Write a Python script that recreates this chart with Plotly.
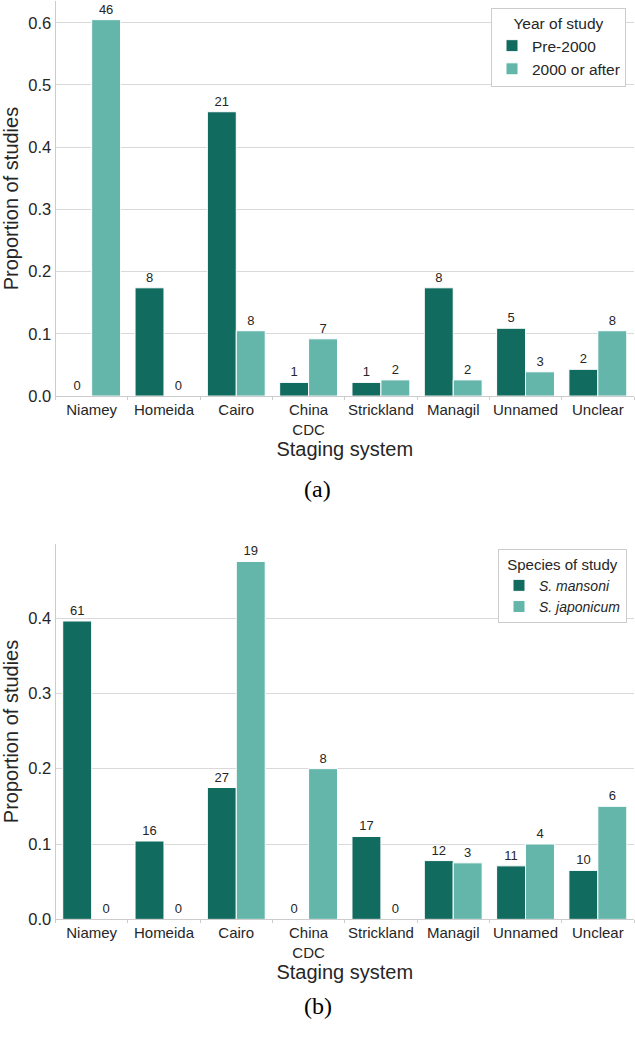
import plotly.graph_objects as go

categories = ["Niamey", "Homeida", "Cairo", "China<br>CDC", "Strickland", "Managil", "Unnamed", "Unclear"]

# Panel (a): year of study
pre2000_counts = [0, 8, 21, 1, 1, 8, 5, 2]
post2000_counts = [46, 0, 8, 7, 2, 2, 3, 8]
pre2000_prop = [0.0, 0.174, 0.457, 0.022, 0.022, 0.174, 0.109, 0.043]
post2000_prop = [0.605, 0.0, 0.105, 0.092, 0.026, 0.026, 0.039, 0.105]

# Panel (b): species of study
mansoni_counts = [61, 16, 27, 0, 17, 12, 11, 10]
japonicum_counts = [0, 0, 19, 8, 0, 3, 4, 6]
mansoni_prop = [0.396, 0.104, 0.175, 0.0, 0.110, 0.078, 0.071, 0.065]
japonicum_prop = [0.0, 0.0, 0.475, 0.200, 0.0, 0.075, 0.100, 0.150]

DARK = "#126b5f"
LIGHT = "#64b5aa"
TXT = "#262626"
GRID = "#d9d9d9"
FONT = "Liberation Sans, Arial, sans-serif"

fig = go.Figure()

def add_bar(x, y, counts, name, color, xa, ya, legend):
    fig.add_trace(go.Bar(
        x=x, y=y, name=name, marker=dict(color=color, line=dict(color="white", width=1)),
        text=[str(c) for c in counts], textposition="outside", cliponaxis=False,
        textfont=dict(size=13, color=TXT, family=FONT), xaxis=xa, yaxis=ya,
        legend=legend, offsetgroup=name,
    ))

add_bar(categories, pre2000_prop, pre2000_counts, "Pre-2000", DARK, "x", "y", "legend")
add_bar(categories, post2000_prop, post2000_counts, "2000 or after", LIGHT, "x", "y", "legend")
add_bar(categories, mansoni_prop, mansoni_counts, "<i>S. mansoni</i>", DARK, "x2", "y2", "legend2")
add_bar(categories, japonicum_prop, japonicum_counts, "<i>S. japonicum</i>", LIGHT, "x2", "y2", "legend2")

xdom = [55.5 / 635, 634 / 635]
H = 1050

def ydom(top_px, bot_px):
    return [1 - bot_px / H, 1 - top_px / H]

xcommon = dict(
    domain=xdom, type="category", range=[-0.5, 7.5], showline=True, linecolor="#cccccc",
    linewidth=1, ticks="outside", tickson="boundaries", ticklen=3, tickcolor="#cccccc",
    tickangle=0, tickfont=dict(size=15, color=TXT, family=FONT), showgrid=False,
    title=dict(text="Staging system", font=dict(size=20, color=TXT, family=FONT), standoff=2),
)
ycommon = dict(
    showline=True, linecolor="#cccccc", linewidth=1, showgrid=True, gridcolor=GRID,
    gridwidth=1, zeroline=False, tickformat=".1f", dtick=0.1, tick0=0,
    tickfont=dict(size=16.5, color=TXT, family=FONT), ticks="",
    title=dict(text="Proportion of studies", font=dict(size=20, color=TXT, family=FONT), standoff=4),
)

fig.update_layout(
    width=635, height=1050, margin=dict(l=0, r=0, t=0, b=0),
    paper_bgcolor="white", plot_bgcolor="white",
    barmode="group", bargap=0.2, bargroupgap=0,
    font=dict(family=FONT, color=TXT),
    xaxis=dict(**xcommon, anchor="y"),
    yaxis=dict(**ycommon, domain=ydom(1, 399.5), range=[0, 0.635], anchor="x"),
    xaxis2=dict(**xcommon, anchor="y2"),
    yaxis2=dict(**ycommon, domain=ydom(548.3, 927.3), range=[0, 0.49875], anchor="x2"),
    legend=dict(
        title=dict(text="Year of study", side="top center", font=dict(size=15.5, color=TXT)),
        x=626 / 635, xanchor="right", y=1 - 8 / H, yanchor="top",
        bgcolor="white", bordercolor="#cccccc", borderwidth=1,
        font=dict(size=15.5, color=TXT, family=FONT), traceorder="normal",
    ),
    legend2=dict(
        title=dict(text="Species of study", side="top center", font=dict(size=15, color=TXT)),
        x=627 / 635, xanchor="right", y=1 - 554 / H, yanchor="top",
        bgcolor="white", bordercolor="#cccccc", borderwidth=1,
        font=dict(size=14, color=TXT, family=FONT), traceorder="normal",
    ),
    showlegend=True,
)

fig.add_annotation(text="(a)", x=0.5, xref="paper", y=1 - 493 / H, yref="paper",
                   yanchor="middle", showarrow=False,
                   font=dict(family="Liberation Serif, Times New Roman, serif", size=24, color="black"))
fig.add_annotation(text="(b)", x=0.5, xref="paper", y=1 - 1015 / H, yref="paper",
                   yanchor="middle", showarrow=False,
                   font=dict(family="Liberation Serif, Times New Roman, serif", size=24, color="black"))

fig.write_html(
    "out.html",
    config={"displayModeBar": False},
    post_script="document.body.style.margin='0';document.body.style.overflow='hidden';",
)
